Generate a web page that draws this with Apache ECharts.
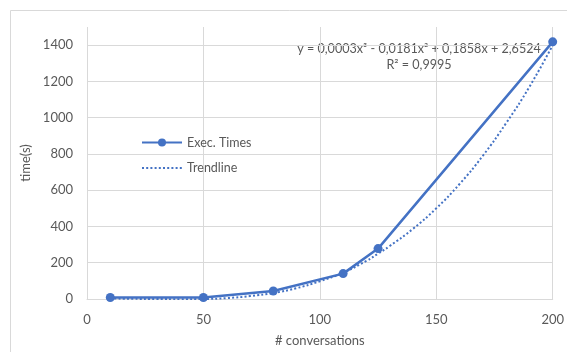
<!DOCTYPE html>
<html>
<head>
<meta charset="utf-8">
<script src="https://cdn.jsdelivr.net/npm/echarts@6/dist/echarts.min.js"></script>
<style>html,body{margin:0;padding:0;background:#fff}#c{width:567px;height:352px}</style>
</head>
<body>
<div id="c"></div>
<script>
// Exec. Times measurements (x = # conversations, y = time in s)
const execX = [10, 50, 80, 110, 125, 200];
const execY = [8, 8, 44, 140, 278, 1418];
// Trendline values
const trendX = [10, 20, 30, 40, 50, 60, 70, 80, 90, 100, 110, 120, 125, 130, 140, 150, 160, 170, 180, 190, 200];
const trendY = [3, 1, 0, -1, 0, 5, 16, 33, 60, 98, 145, 210, 250, 292, 387, 500, 634, 790, 970, 1170, 1400];
const xTicks = [0, 50, 100, 150, 200];
const yTicks = [0, 200, 400, 600, 800, 1000, 1200, 1400];
const equation = 'y = 0,0003x³ - 0,0181x² + 0,1858x + 2,6524';
const rSquared = 'R² = 0,9995';

const FONT = 'Lato';
const TXT = '#595959';
const GRID = '#d9d9d9';
const BLUE = '#4472C4';

const chart = echarts.init(document.getElementById('c'), null, {renderer: 'canvas'});
const gridColors = yTicks.map(() => GRID).concat(['rgba(0,0,0,0)']);
chart.setOption({
  animation: false,
  backgroundColor: '#fff',
  textStyle: {fontFamily: FONT},
  grid: {left: 87, top: 27, right: 12, bottom: 53, containLabel: false},
  legend: {
    orient: 'vertical', left: 136, top: 131, itemWidth: 40, itemHeight: 10, itemGap: 12.6,
    textStyle: {color: TXT, fontSize: 12.5, fontFamily: FONT},
    data: [
      {name: 'Exec. Times'},
      {name: 'Trendline', itemStyle: {opacity: 0}}
    ]
  },
  xAxis: {
    type: 'value', min: 0, max: 200, interval: 50,
    name: '# conversations', nameLocation: 'middle', nameGap: 35,
    nameTextStyle: {color: TXT, fontSize: 13, fontFamily: FONT},
    axisLine: {show: true, lineStyle: {color: GRID, width: 1}},
    axisTick: {show: false},
    axisLabel: {color: TXT, fontSize: 13, margin: 14, fontFamily: FONT,
      formatter: v => (xTicks.indexOf(v) >= 0 ? String(v) : '')},
    splitLine: {show: true, lineStyle: {color: GRID, width: 1}}
  },
  yAxis: {
    type: 'value', min: 0, max: 1500, interval: 200,
    name: 'time(s)', nameLocation: 'middle', nameGap: 50,
    nameTextStyle: {color: TXT, fontSize: 13, fontFamily: FONT},
    axisLine: {show: false}, axisTick: {show: false},
    axisLabel: {color: TXT, fontSize: 13, margin: 14, fontFamily: FONT, showMaxLabel: false,
      formatter: v => (yTicks.indexOf(v) >= 0 ? String(v) : '')},
    splitLine: {show: true, lineStyle: {color: gridColors, width: 1}}
  },
  graphic: [
    {type: 'rect', shape: {x: 10.5, y: 10.5, width: 600, height: 400}, style: {fill: 'none', stroke: GRID, lineWidth: 1}, silent: true, z: -1},
    {type: 'text', x: 419, y: 42, style: {text: equation, textAlign: 'center', fill: TXT, fontSize: 12.6, fontFamily: FONT}},
    {type: 'text', x: 419, y: 58, style: {text: rSquared, textAlign: 'center', fill: TXT, fontSize: 12.6, fontFamily: FONT}}
  ],
  series: [
    {
      name: 'Exec. Times', type: 'line',
      data: execX.map((x, i) => [x, execY[i]]),
      symbol: 'circle', symbolSize: 9, showSymbol: true,
      lineStyle: {color: BLUE, width: 2.5},
      itemStyle: {color: BLUE},
      z: 3
    },
    {
      name: 'Trendline', type: 'line', smooth: true,
      data: trendX.map((x, i) => [x, trendY[i]]),
      symbol: 'none', showSymbol: false,
      lineStyle: {color: BLUE, width: 2, type: [2, 2.2]},
      itemStyle: {color: BLUE},
      z: 2
    }
  ]
});
</script>
</body>
</html>
